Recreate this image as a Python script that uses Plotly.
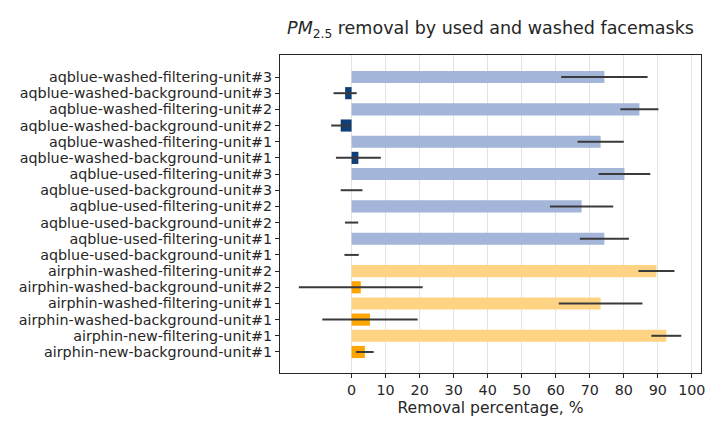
import plotly.graph_objects as go

categories = [
    "aqblue-washed-filtering-unit#3",
    "aqblue-washed-background-unit#3",
    "aqblue-washed-filtering-unit#2",
    "aqblue-washed-background-unit#2",
    "aqblue-washed-filtering-unit#1",
    "aqblue-washed-background-unit#1",
    "aqblue-used-filtering-unit#3",
    "aqblue-used-background-unit#3",
    "aqblue-used-filtering-unit#2",
    "aqblue-used-background-unit#2",
    "aqblue-used-filtering-unit#1",
    "aqblue-used-background-unit#1",
    "airphin-washed-filtering-unit#2",
    "airphin-washed-background-unit#2",
    "airphin-washed-filtering-unit#1",
    "airphin-washed-background-unit#1",
    "airphin-new-filtering-unit#1",
    "airphin-new-background-unit#1",
]
removal = [74.3, -1.9, 84.6, -3.2, 73.2, 2.0, 80.2, 0.0, 67.6, 0.0, 74.3, 0.0,
           89.6, 2.7, 73.2, 5.4, 92.5, 3.9]
error = [12.7, 3.4, 5.6, 2.8, 6.8, 6.6, 7.6, 3.2, 9.3, 1.95, 7.2, 2.1,
         5.3, 18.2, 12.3, 14.0, 4.4, 2.6]
x_ticks = list(range(0, 101, 10))

colour_map = {
    ("aqblue", "filtering"): "#a3b5d9",
    ("aqblue", "background"): "#0e3f78",
    ("airphin", "filtering"): "#fed383",
    ("airphin", "background"): "#ffa500",
}
colours = [colour_map[(c.split("-")[0], c.split("-")[2])] for c in categories]

ink = "#262626"
fig = go.Figure(go.Bar(
    y=categories, x=removal, orientation="h",
    marker=dict(color=colours, line=dict(width=0)),
    error_x=dict(type="data", array=error, color="#3a3a3a", thickness=2, width=0),
))

fig.update_layout(
    width=720, height=432,
    margin=dict(l=280, r=18.5, t=55, b=59),
    paper_bgcolor="white", plot_bgcolor="white",
    font=dict(family="DejaVu Sans", size=14.3, color=ink),
    bargap=0.25,
    showlegend=False,
    title=dict(text="<i>PM</i><sub>2.5</sub> removal by used and washed facemasks",
               x=0.5, xref="paper", xanchor="center", y=1 - 28 / 432, yanchor="middle",
               font=dict(size=17.5, color=ink)),
)
fig.update_xaxes(
    range=[-21.04, 102.7], tickmode="array", tickvals=x_ticks,
    ticktext=[str(v) for v in x_ticks],
    showgrid=True, gridcolor="#e3e3e3", gridwidth=1, zeroline=False,
    ticks="outside", ticklen=4, tickcolor=ink, tickfont=dict(size=14.3),
    showline=True, linecolor=ink, linewidth=1, mirror=True,
    title=dict(text="Removal percentage, %", font=dict(size=15.6), standoff=4),
)
fig.update_yaxes(
    range=[18.3, -1.36], tickmode="array", tickvals=categories, ticktext=categories,
    showgrid=False, zeroline=False,
    ticks="outside", ticklen=4, tickcolor=ink, tickfont=dict(size=14.3),
    showline=True, linecolor=ink, linewidth=1, mirror=True,
)

fig.write_html("out.html", config={"displayModeBar": False},
               post_script="document.body.style.margin='0';")
